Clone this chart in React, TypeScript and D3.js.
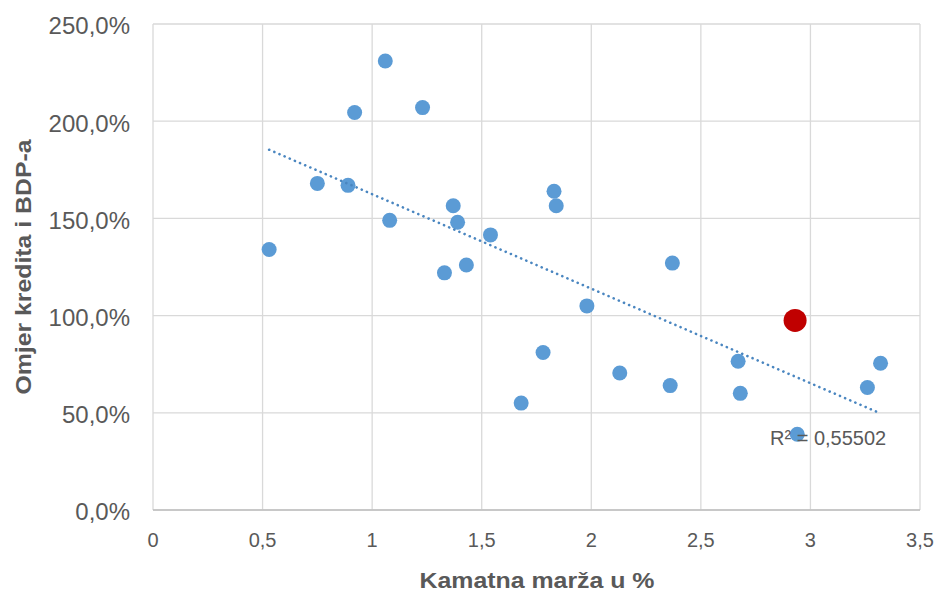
import React from 'react';
import * as d3 from 'd3';

// kamatna marža (%) i omjer kredita i BDP-a (%)
const marza = [0.53, 0.75, 0.89, 0.92, 1.06, 1.08, 1.23, 1.33, 1.37, 1.39, 1.43, 1.54, 1.68, 1.78, 1.83, 1.84, 1.98, 2.13, 2.36, 2.37, 2.67, 2.68, 2.94, 3.26, 3.32];
const omjer = [134, 168, 167, 204.5, 231, 149, 207, 122, 156.5, 148, 126, 141.5, 55, 81, 164, 156.5, 105, 70.5, 64, 127, 76.5, 60, 39, 63, 75.5];
const istaknuto = { x: 2.93, y: 97.5 };
const xTicks = [0, 0.5, 1, 1.5, 2, 2.5, 3, 3.5];
const yTicks = [0, 50, 100, 150, 200, 250];
const r2Label = 'R² = 0,55502';

const W = 939;
const H = 595;
const margin = { top: 24, right: 19, bottom: 85, left: 153 };
const font = '"Liberation Sans", Arial, sans-serif';
const grey = '#595959';

const App: React.FC = () => {
  const x = d3.scaleLinear().domain([0, 3.5]).range([margin.left, W - margin.right]);
  const y = d3.scaleLinear().domain([0, 250]).range([H - margin.bottom, margin.top]);

  // linearni trend (najmanji kvadrati), uključujući istaknutu točku
  const xs = [...marza, istaknuto.x];
  const ys = [...omjer, istaknuto.y];
  const mx = d3.mean(xs)!;
  const my = d3.mean(ys)!;
  const slope = d3.sum(xs, (v, i) => (v - mx) * (ys[i] - my)) / d3.sum(xs, v => (v - mx) ** 2);
  const icpt = my - slope * mx;
  const x0 = d3.min(xs)!;
  const x1 = d3.max(xs)!;

  const fmtY = (v: number) => v.toFixed(1).replace('.', ',') + '%';
  const fmtX = (v: number) => String(v).replace('.', ',');

  return (
    <svg width={W} height={H} style={{ position: 'absolute', left: 0, top: 0, background: '#fff' }}>
      {yTicks.map(t => (
        <line key={'gy' + t} x1={x(0)} x2={x(3.5)} y1={y(t)} y2={y(t)} stroke="#d9d9d9" strokeWidth={1.3} />
      ))}
      {xTicks.map(t => (
        <line key={'gx' + t} x1={x(t)} x2={x(t)} y1={y(0)} y2={y(250)} stroke="#d9d9d9" strokeWidth={1.3} />
      ))}
      <line x1={x(0)} x2={x(3.5)} y1={y(0)} y2={y(0)} stroke="#bfbfbf" strokeWidth={1.3} />

      {yTicks.map(t => (
        <text key={'ly' + t} x={130} y={y(t) + 2} dy="0.35em" textAnchor="end" fontFamily={font} fontSize={24} fill={grey}>
          {fmtY(t)}
        </text>
      ))}
      {xTicks.map(t => (
        <text key={'lx' + t} x={x(t)} y={547} textAnchor="middle" fontFamily={font} fontSize={20} fill={grey}>
          {fmtX(t)}
        </text>
      ))}

      <text x={537} y={588} textAnchor="middle" fontFamily={font} fontSize={22} fontWeight="bold" fill={grey}
        textLength={235} lengthAdjust="spacingAndGlyphs">
        Kamatna marža u %
      </text>
      <text transform={`translate(31,${(y(0) + y(250)) / 2}) rotate(-90)`} textAnchor="middle" fontFamily={font} fontSize={22} fontWeight="bold" fill={grey}
        textLength={255} lengthAdjust="spacingAndGlyphs">
        Omjer kredita i BDP-a
      </text>

      {marza.map((m, i) => (
        <circle key={'p' + i} cx={x(m)} cy={y(omjer[i])} r={7.5} fill="#5b9bd5" />
      ))}
      <circle cx={x(istaknuto.x)} cy={y(istaknuto.y)} r={11.5} fill="#c00000" />

      <line
        x1={x(x0)} y1={y(icpt + slope * x0)} x2={x(x1)} y2={y(icpt + slope * x1)}
        stroke="#4a86c0" strokeWidth={2.6} strokeDasharray="0.1 5.5" strokeLinecap="round"
      />

      <text x={770} y={445} fontFamily={font} fontSize={20} fill={grey}>{r2Label}</text>
    </svg>
  );
};

export default App;
